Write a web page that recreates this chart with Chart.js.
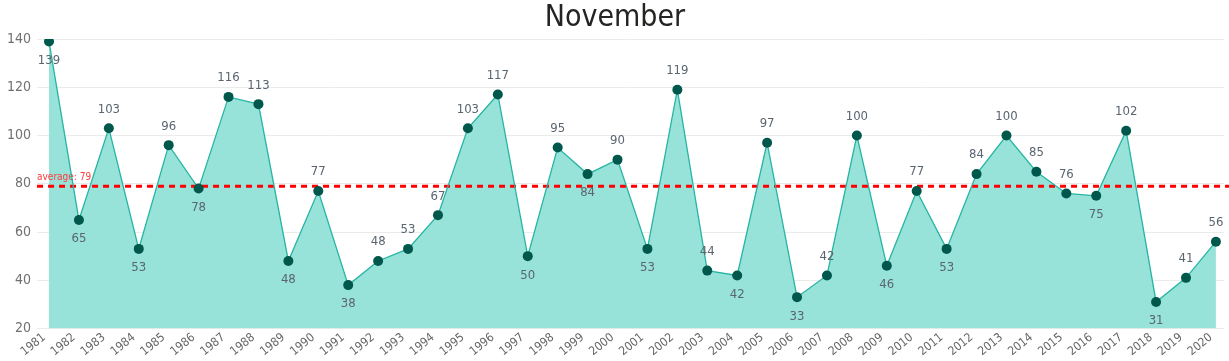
<!DOCTYPE html>
<html>
<head>
<meta charset="utf-8">
<script src="https://cdn.jsdelivr.net/npm/chart.js@4/dist/chart.umd.min.js"></script>
<style>
  html, body { margin: 0; padding: 0; background: #fff; overflow: hidden; }
  #wrap { width: 1229px; height: 361px; position: relative; }
</style>
</head>
<body>
<div id="wrap"><canvas id="c"></canvas></div>
<script>
const years = [1981,1982,1983,1984,1985,1986,1987,1988,1989,1990,1991,1992,1993,1994,1995,1996,1997,1998,1999,2000,2001,2002,2003,2004,2005,2006,2007,2008,2009,2010,2011,2012,2013,2014,2015,2016,2017,2018,2019,2020];
const values = [139,65,103,53,96,78,116,113,48,77,38,48,53,67,103,117,50,95,84,90,53,119,44,42,97,33,42,100,46,77,53,84,100,85,76,75,102,31,41,56];
const yTicks = [20,40,60,80,100,120,140];
const averageValue = 79;
const titleText = 'November';

const FONT = "'DejaVu Sans Condensed', sans-serif";

const avgPlugin = {
  id: 'avgLine',
  beforeDatasetDraw(chart) {
    const {ctx, chartArea, scales} = chart;
    const y = scales.y.getPixelForValue(averageValue);
    ctx.save();
    ctx.strokeStyle = '#ff0000';
    ctx.lineWidth = 3;
    ctx.setLineDash([6, 5]);
    ctx.beginPath();
    ctx.moveTo(chartArea.left, y);
    ctx.lineTo(chart.width, y);
    ctx.stroke();
    ctx.setLineDash([]);
    ctx.fillStyle = '#ff3b3b';
    ctx.font = "10px " + FONT;
    ctx.textAlign = 'left';
    ctx.textBaseline = 'bottom';
    ctx.fillText('average: ' + averageValue, chartArea.left, y - 4);
    ctx.restore();
  }
};

const labelPlugin = {
  id: 'pointLabels',
  afterDatasetsDraw(chart) {
    const {ctx, chartArea} = chart;
    const meta = chart.getDatasetMeta(0);
    ctx.save();
    ctx.fillStyle = '#5a6570';
    ctx.font = "13px " + FONT;
    ctx.textAlign = 'center';
    ctx.textBaseline = 'middle';
    const off = 19;
    meta.data.forEach((pt, i) => {
      const v = values[i];
      const prev = i > 0 ? values[i-1] : -Infinity;
      const next = i < values.length - 1 ? values[i+1] : -Infinity;
      let below = (i > 0 && i < values.length - 1 && v < prev && v < next);
      if (!below && pt.y - off - 7 < chartArea.top) below = true;
      const ty = below ? pt.y + off : pt.y - off;
      ctx.fillText(String(v), pt.x, ty);
    });
    ctx.restore();
  }
};

new Chart(document.getElementById('c'), {
  type: 'line',
  data: {
    datasets: [{
      data: years.map((yr, i) => ({x: yr, y: values[i]})),
      borderColor: '#26b5a3',
      borderWidth: 1.3,
      backgroundColor: '#97e2d9',
      fill: 'start',
      tension: 0,
      pointRadius: 5,
      pointHoverRadius: 5,
      pointBackgroundColor: '#00584c',
      pointBorderColor: '#00584c',
      pointBorderWidth: 0,
      clip: {left: 0, top: 0, right: 0, bottom: 0}
    }]
  },
  options: {
    responsive: true,
    maintainAspectRatio: false,
    animation: false,
    layout: { padding: { left: 1, right: 0, top: 0, bottom: 0 } },
    plugins: {
      legend: { display: false },
      tooltip: { enabled: false },
      title: {
        display: true,
        text: titleText,
        color: '#252423',
        font: { family: "'DejaVu Sans Condensed', sans-serif", size: 30, weight: 'normal' },
        padding: { top: 0, bottom: 3 }
      }
    },
    scales: {
      x: {
        type: 'linear',
        min: years[0] - 0.4,
        max: years[years.length - 1] + 0.27,
        grid: { display: false, drawTicks: false },
        border: { display: false },
        afterBuildTicks(axis) { axis.ticks = years.map(v => ({value: v})); },
        afterFit(axis) { axis.paddingRight = 0; },
        ticks: {
          autoSkip: false,
          minRotation: 39,
          maxRotation: 39,
          labelOffset: -5,
          padding: 2,
          color: '#666666',
          font: { family: FONT, size: 12 },
          callback: (v) => String(v)
        }
      },
      y: {
        min: yTicks[0],
        max: yTicks[yTicks.length - 1],
        afterBuildTicks(axis) { axis.ticks = yTicks.map(v => ({value: v})); },
        grid: { color: '#ebebeb', lineWidth: 1, drawTicks: false },
        border: { display: false },
        ticks: {
          padding: 6,
          color: '#707070',
          font: { family: FONT, size: 14 }
        }
      }
    }
  },
  plugins: [avgPlugin, labelPlugin]
});
</script>
</body>
</html>
